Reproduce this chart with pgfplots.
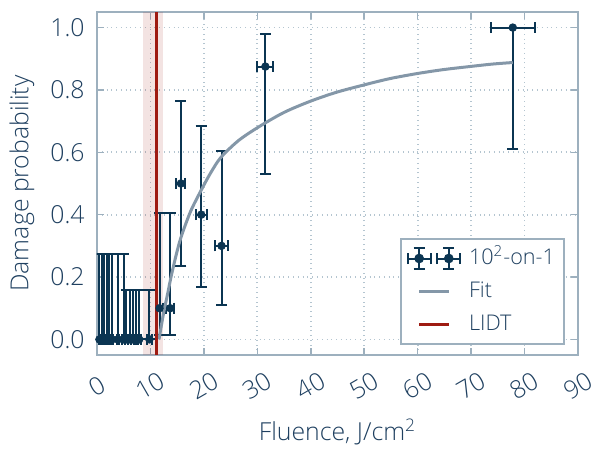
\documentclass[border=0pt]{standalone}
\usepackage{pgfplots}
\pgfplotsset{compat=1.18}
\usepackage{fontspec}
\setmainfont{Open Sans}[UprightFont={* Light}]

\definecolor{navy}{HTML}{0B3552}
\definecolor{txt}{HTML}{1F4060}
\definecolor{framec}{HTML}{9DB0BE}
\definecolor{gridc}{HTML}{B4C5D0}
\definecolor{fitc}{HTML}{8497A8}
\definecolor{lidt}{HTML}{9E1B12}

\begin{document}
\begin{tikzpicture}
\begin{axis}[
    name=ax,
    scale only axis,
    width=240.5bp, height=171.5bp,
    xmin=0, xmax=90, ymin=-0.05, ymax=1.05,
    xtick={0,10,...,90},
    ytick={0,0.2,0.4,0.6,0.8,1.0},
    grid=major,
    major grid style={dotted, line width=0.9bp, gridc},
    tick align=inside,
    major tick length=3.5bp,
    axis line style={framec, line width=1bp},
    every tick/.style={framec, line width=0.8bp},
    /pgf/number format/assume math mode=true,
    ticklabel style={font=\fontsize{12.4bp}{14bp}\selectfont, text=txt},
    xticklabel style={yshift=-15.5bp, rotate=30, anchor=center},
    yticklabel style={anchor=east, inner sep=0pt, xshift=-6bp,
        /pgf/number format/.cd, fixed, fixed zerofill, precision=1},
    xlabel={Fluence, J/cm\textsuperscript{2}},
    ylabel={Damage probability},
    label style={font=\fontsize{12.4bp}{14bp}\selectfont, text=txt},
    xlabel style={at={(axis description cs:0.5,-0.2245)}, anchor=center},
    ylabel style={at={(axis description cs:-0.156,0.5)}, anchor=center},
    legend style={
        at={(axis description cs:1,0)}, anchor=south east,
        xshift=-6.5bp, yshift=5bp,
        draw=framec, line width=1bp, fill=white,
        font=\fontsize{10.8bp}{12bp}\selectfont, text=txt,
        inner sep=2.5bp, row sep=2bp,
        nodes={text height=8bp, text depth=2.5bp, inner sep=2bp},
    },
    legend cell align=left,
]

% LIDT uncertainty band
\addplot[draw=none, fill=lidt, fill opacity=0.12, forget plot]
    coordinates {(8.6,-0.05) (12.4,-0.05) (12.4,1.05) (8.6,1.05)} -- cycle;

% measured damage probability
\addplot[navy, only marks, mark=*, mark size=1.9bp,
    mark options={solid, fill=navy, draw=navy},
    legend image code/.code={
        \path (0,0) (28bp,0);
        \foreach \c in {5.8bp,20.6bp}{
            \begin{scope}[xshift=\c]
            \draw[navy, line width=1bp] (-5.8bp,0) -- (5.8bp,0);
            \draw[navy, line width=1bp] (0,-5.4bp) -- (0,5.4bp);
            \draw[navy, line width=1bp] (-5.8bp,-2.75bp) -- (-5.8bp,2.75bp);
            \draw[navy, line width=1bp] (5.8bp,-2.75bp) -- (5.8bp,2.75bp);
            \draw[navy, line width=1bp] (-2.75bp,-5.4bp) -- (2.75bp,-5.4bp);
            \draw[navy, line width=1bp] (-2.75bp,5.4bp) -- (2.75bp,5.4bp);
            \fill[navy] (0,0) circle (1.9bp);
            \end{scope}
        }
    },
    error bars/.cd,
    x dir=both, x explicit, y dir=both, y explicit,
    error bar style={line width=1bp, navy},
    error mark=|,
    error mark options={line width=1bp, mark size=2.75bp, navy},
] coordinates {
    (0.45,0) += (0.02,0.275) -= (0.02,0)
    (0.9,0)  += (0.05,0.275) -= (0.05,0)
    (1.35,0) += (0.07,0.275) -= (0.07,0)
    (1.8,0)  += (0.09,0.275) -= (0.09,0)
    (2.25,0) += (0.11,0.275) -= (0.11,0)
    (2.8,0)  += (0.14,0.275) -= (0.14,0)
    (3.9,0)  += (0.2,0.275)  -= (0.2,0)
    (5.0,0)  += (0.25,0.275) -= (0.25,0)
    (5.5,0)  += (0.27,0.16)  -= (0.27,0)
    (6.1,0)  += (0.3,0.16)   -= (0.3,0)
    (6.7,0)  += (0.33,0.16)  -= (0.33,0)
    (7.3,0)  += (0.36,0.16)  -= (0.36,0)
    (7.9,0)  += (0.4,0.16)   -= (0.4,0)
    (9.8,0)  += (0.5,0.16)   -= (0.5,0)
    (11.7,0.1)  += (0.6,0.305) -= (0.6,0.085)
    (13.7,0.1)  += (0.7,0.305) -= (0.7,0.085)
    (15.7,0.5)  += (0.85,0.264) -= (0.85,0.263)
    (19.5,0.4)  += (1.0,0.286) -= (1.0,0.233)
    (23.3,0.3)  += (1.2,0.303) -= (1.2,0.191)
    (31.5,0.875) += (1.5,0.104) -= (1.5,0.346)
    (77.8,1.0)  += (4.1,0) -= (4.1,0.389)
};
\addlegendentry{10\textsuperscript{2}-on-1\hspace{3bp}}

% fit
\addplot[fitc, line width=1.5bp, smooth, no marks,
    legend image code/.code={
        \path (0,0) (28bp,0);
        \draw[fitc, line width=1.5bp] (5.8bp,0) -- (20.6bp,0);
    }] coordinates {
    (11.6,0.0) (12.0,0.04) (12.5,0.088) (13.2,0.145) (13.85,0.2)
    (14.8,0.27) (15.73,0.328) (17.5,0.41) (19.48,0.478) (21.3,0.535)
    (23.2,0.584) (26.5,0.638) (30.4,0.683) (35,0.728) (39.8,0.763)
    (44.7,0.792) (49.7,0.815) (54.7,0.836) (59.7,0.852) (64.7,0.865)
    (69.7,0.875) (74,0.883) (77.8,0.888)
};
\addlegendentry{Fit}

% LIDT
\addplot[lidt, line width=1.5bp, no marks,
    legend image code/.code={
        \path (0,0) (28bp,0);
        \draw[lidt, line width=1.5bp] (5.8bp,0) -- (20.6bp,0);
    }] coordinates {(11.1,-0.05) (11.1,1.05)};
\addlegendentry{LIDT}

\end{axis}
\pgfresetboundingbox
\path ([shift={(-48.5bp,-47.5bp)}]ax.south west) rectangle ([shift={(6.5bp,6bp)}]ax.north east);
\end{tikzpicture}
\end{document}
